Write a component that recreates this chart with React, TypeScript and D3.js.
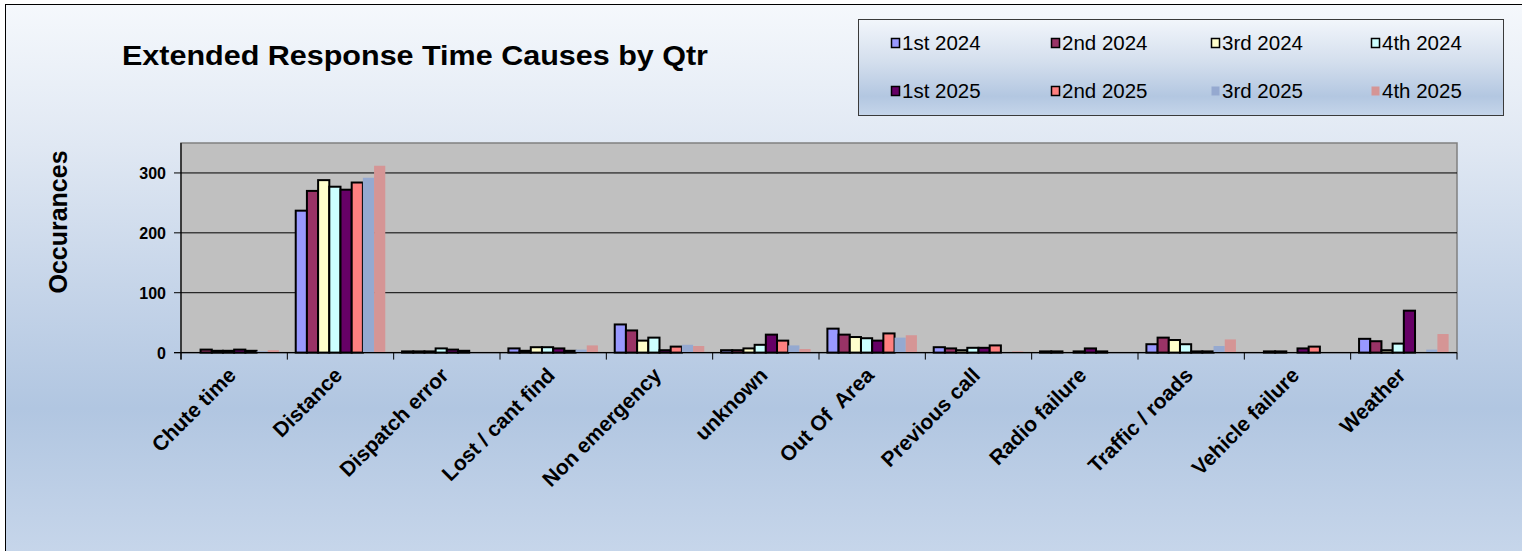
import React from "react";
import * as d3 from "d3";

// Causes of extended response times, one bar per quarter
const categories = [
  "Chute time",
  "Distance",
  "Dispatch error",
  "Lost / cant find",
  "Non emergency",
  "unknown",
  "Out Of  Area",
  "Previous call",
  "Radio failure",
  "Traffic / roads",
  "Vehicle failure",
  "Weather",
];

const seriesNames = [
  "1st 2024",
  "2nd 2024",
  "3rd 2024",
  "4th 2024",
  "1st 2025",
  "2nd 2025",
  "3rd 2025",
  "4th 2025",
];

const q1_2024 = [0, 237, 2, 7, 47, 4, 40, 9, 2, 14, 0, 23];
const q2_2024 = [5, 270, 2, 3, 37, 4, 30, 7, 2, 25, 2, 19];
const q3_2024 = [3, 288, 2, 9, 20, 7, 26, 4, 0, 21, 2, 4];
const q4_2024 = [3, 277, 7, 9, 25, 13, 24, 8, 2, 14, 0, 15];
const q1_2025 = [5, 272, 5, 7, 4, 30, 20, 8, 7, 2, 7, 70];
const q2_2025 = [3, 284, 3, 3, 10, 20, 32, 12, 2, 2, 10, 0];
const q3_2025 = [2, 292, 1, 5, 13, 12, 25, 1, 1, 11, 0, 5];
const q4_2025 = [4, 312, 1, 12, 11, 6, 29, 2, 0, 22, 0, 31];

const seriesValues = [q1_2024, q2_2024, q3_2024, q4_2024, q1_2025, q2_2025, q3_2025, q4_2025];

const yTicks = [0, 100, 200, 300];

const fills = ["#9999FF", "#993366", "#FFFFCC", "#CCFFFF", "#660066", "#FF8080", "#95A9D0", "#D59595"];
const outlined = [true, true, true, true, true, true, false, false];

const W = 1522;
const H = 551;
const plotLeft = 181;
const plotRight = 1457;
const plotTop = 143;
const plotBottom = 352.6;

const FONT = "'Liberation Sans', Arial, sans-serif";

export default function App() {
  const x = d3.scaleBand<string>().domain(categories).range([plotLeft, plotRight]).padding(0);
  const bw = x.bandwidth();
  const barW = bw / 9.5;
  const xs = d3
    .scaleBand<string>()
    .domain(seriesNames)
    .range([0.75 * barW, bw - 0.75 * barW])
    .padding(0);
  const y = d3.scaleLinear().domain([0, 350]).range([plotBottom, plotTop]);

  const boundaries = categories.map((c) => x(c) as number).concat([plotRight]);

  const legendX0 = 895;
  const legendDX = 160;
  const legendRows = [43, 91];

  return (
    <svg
      width={W}
      height={H}
      style={{ position: "absolute", left: 0, top: 0, display: "block" }}
      fontFamily={FONT}
    >
      <defs>
        <linearGradient id="bg" x1="0" y1="0" x2="0" y2="1">
          <stop offset="0" stopColor="#F5F8FC" />
          <stop offset="0.25" stopColor="#E0E8F3" />
          <stop offset="0.5" stopColor="#C6D5E9" />
          <stop offset="0.72" stopColor="#B1C6E1" />
          <stop offset="1" stopColor="#C8D7EB" />
        </linearGradient>
        <linearGradient id="legendBg" x1="0" y1="0" x2="0" y2="1">
          <stop offset="0" stopColor="#F2F6FB" />
          <stop offset="0.45" stopColor="#D3DEED" />
          <stop offset="0.8" stopColor="#B3C7E1" />
          <stop offset="1" stopColor="#C5D5EA" />
        </linearGradient>
      </defs>

      <rect x={0} y={0} width={W} height={H} fill="#FFFFFF" />
      <rect x={5.5} y={4.5} width={W + 10} height={H + 10} fill="url(#bg)" stroke="#000" strokeWidth={1} />

      {/* Title */}
      <text
        x={122}
        y={65}
        fontSize={28}
        fontWeight="bold"
        fill="#000"
        textLength={586}
        lengthAdjust="spacingAndGlyphs"
      >
        Extended Response Time Causes by Qtr
      </text>

      {/* Legend */}
      <rect x={858.5} y={19.5} width={645} height={96} fill="url(#legendBg)" stroke="#3A3A3A" strokeWidth={1} />
      {seriesNames.map((name, i) => {
        const col = i % 4;
        const row = Math.floor(i / 4);
        const lx = legendX0 + col * legendDX;
        const ly = legendRows[row];
        return (
          <g key={name}>
            <rect
              x={lx - 3.5}
              y={ly - 4.5}
              width={8}
              height={9}
              fill={fills[i]}
              stroke={outlined[i] ? "#000" : "none"}
              strokeWidth={outlined[i] ? 1.5 : 0}
            />
            <text x={lx + 7} y={ly + 7} fontSize={20.5} fill="#000">
              {name}
            </text>
          </g>
        );
      })}

      {/* Plot area */}
      <rect x={plotLeft} y={plotTop} width={plotRight - plotLeft} height={plotBottom - plotTop} fill="#C0C0C0" stroke="#808080" strokeWidth={1.5} />
      {yTicks
        .filter((t) => t > 0)
        .map((t) => (
          <line key={t} x1={plotLeft} x2={plotRight} y1={y(t)} y2={y(t)} stroke="#000" strokeWidth={1} />
        ))}

      {/* Bars */}
      {seriesValues.map((vals, si) => (
        <g key={seriesNames[si]}>
          {vals.map((v, ci) =>
            v > 0 ? (
              <rect
                key={categories[ci]}
                x={(x(categories[ci]) as number) + (xs(seriesNames[si]) as number)}
                y={y(v)}
                width={xs.bandwidth()}
                height={plotBottom - y(v)}
                fill={fills[si]}
                stroke={outlined[si] ? "#000" : "none"}
                strokeWidth={outlined[si] ? 2 : 0}
              />
            ) : null
          )}
        </g>
      ))}

      {/* Axes */}
      <line x1={plotLeft} x2={plotLeft} y1={plotTop} y2={plotBottom + 7} stroke="#000" strokeWidth={1.2} />
      <line x1={plotLeft - 7} x2={plotRight} y1={plotBottom} y2={plotBottom} stroke="#000" strokeWidth={1.2} />
      {yTicks.map((t) => (
        <g key={t}>
          <line x1={plotLeft - 7} x2={plotLeft} y1={y(t)} y2={y(t)} stroke="#000" strokeWidth={1} />
          <text x={plotLeft - 15} y={y(t) + 6} textAnchor="end" fontSize={16} fontWeight="bold" fill="#000">
            {t}
          </text>
        </g>
      ))}
      {boundaries.map((b, i) => (
        <line key={i} x1={b} x2={b} y1={plotBottom} y2={plotBottom + 7} stroke="#000" strokeWidth={1} />
      ))}

      {/* Category labels */}
      {categories.map((c) => {
        const cx = (x(c) as number) + bw / 2 + 3;
        const cy = plotBottom + 24;
        return (
          <text
            key={c}
            x={cx}
            y={cy}
            transform={`rotate(-45, ${cx}, ${cy})`}
            textAnchor="end"
            fontSize={21}
            fontWeight="bold"
            fill="#000"
            style={{ whiteSpace: "pre" }}
          >
            {c}
          </text>
        );
      })}

      {/* Y axis title */}
      <text
        x={0}
        y={0}
        transform={`translate(67, 222) rotate(-90)`}
        textAnchor="middle"
        fontSize={25}
        fontWeight="bold"
        fill="#000"
      >
        Occurances
      </text>
    </svg>
  );
}
